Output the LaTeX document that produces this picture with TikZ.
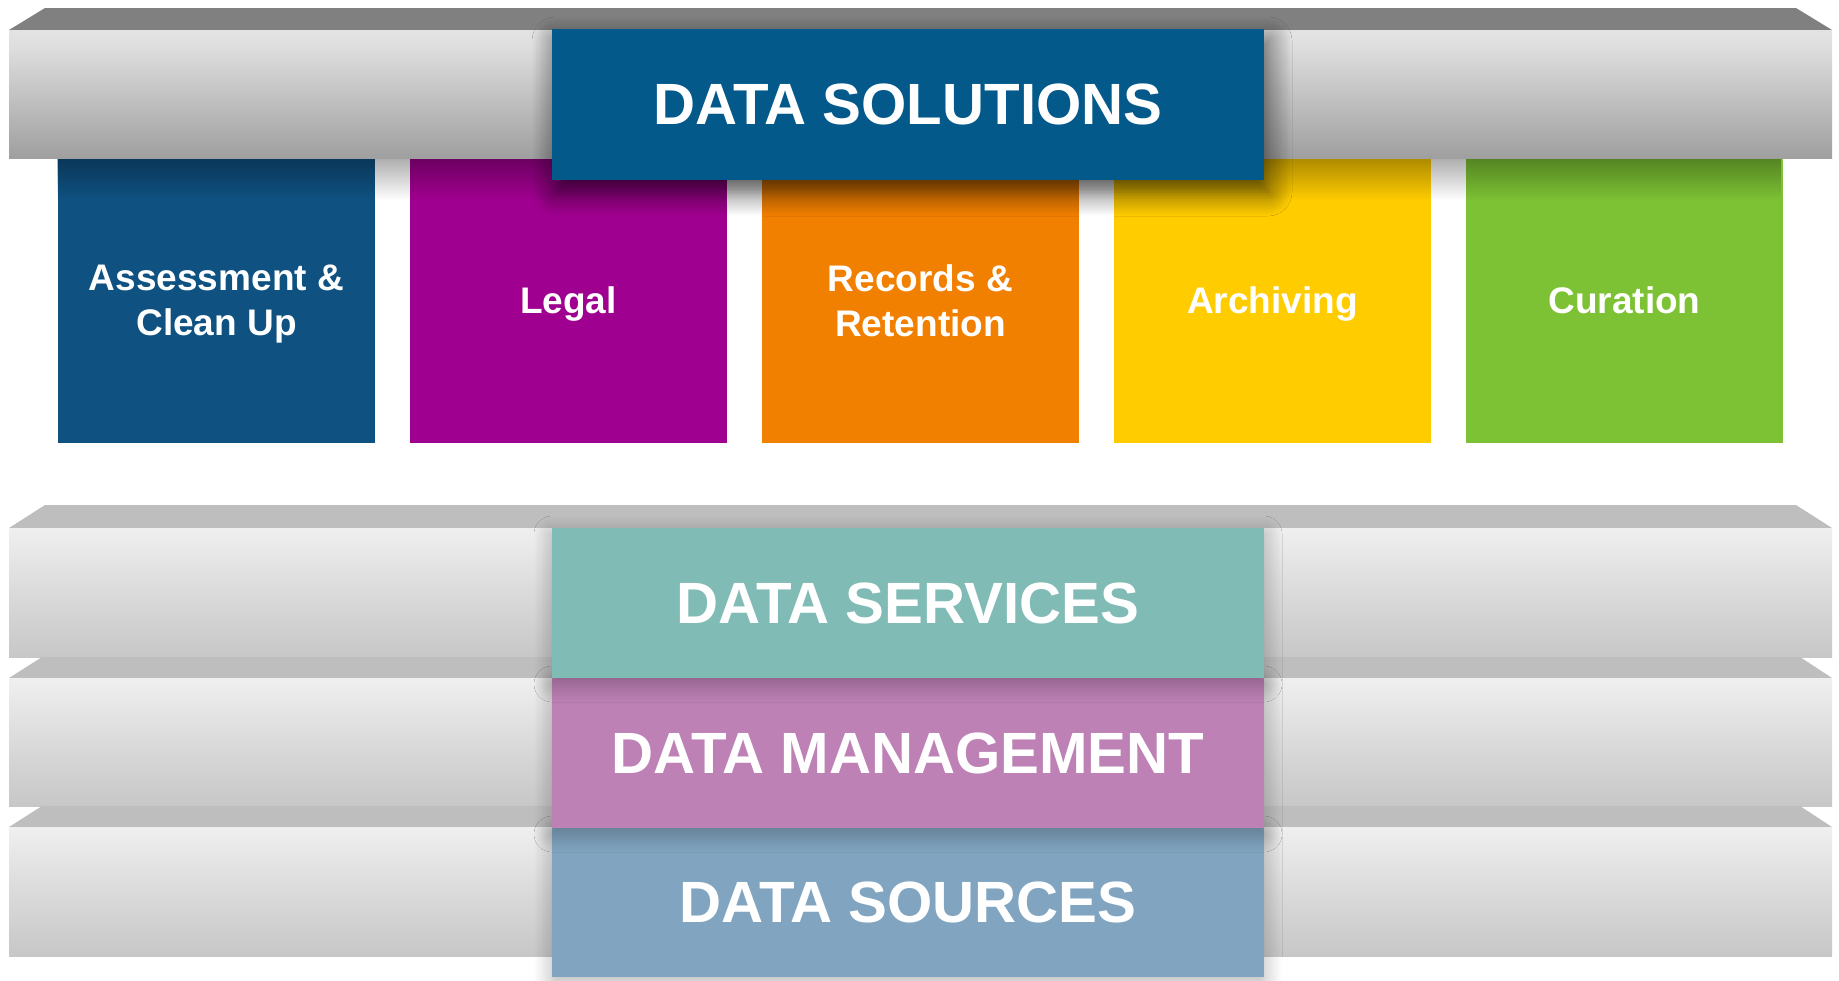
\documentclass[tikz,border=0pt]{standalone}
\usepackage{fontspec}
\setmainfont{Liberation Sans}
\usetikzlibrary{shadows.blur,fadings}
\definecolor{sd0}{HTML}{808080}
\definecolor{sd1}{HTML}{989898}
\definecolor{sd2}{HTML}{BCBCBC}
\definecolor{sd3}{HTML}{E0E0E0}
\definecolor{sd4}{HTML}{F0F0F0}
\definecolor{sl0}{HTML}{BEBEBE}
\definecolor{sl1}{HTML}{C7C7C7}
\definecolor{sl2}{HTML}{DCDCDC}
\definecolor{sl3}{HTML}{F2F2F2}
\definecolor{sl4}{HTML}{F7F7F7}
\definecolor{topdark}{HTML}{808080}
\definecolor{toplight}{HTML}{BEBEBE}
\definecolor{solblue}{HTML}{02598A}
\definecolor{cblue}{HTML}{0F5282}
\definecolor{cmag}{HTML}{A0008F}
\definecolor{corange}{HTML}{F28000}
\definecolor{cyellow}{HTML}{FFCC00}
\definecolor{cgreen}{HTML}{7DC234}
\definecolor{cteal}{HTML}{81BBB5}
\definecolor{cpink}{HTML}{BD81B5}
\definecolor{csteel}{HTML}{81A5C0}
\pgfdeclareverticalshading{slabdark}{100bp}{color(0bp)=(sd0); color(20bp)=(sd1); color(45bp)=(sd2); color(70bp)=(sd3); color(100bp)=(sd4)}
\pgfdeclareverticalshading{slablight}{100bp}{color(0bp)=(sl0); color(25bp)=(sl1); color(52bp)=(sl2); color(78bp)=(sl3); color(100bp)=(sl4)}
\tikzfading[name=fadedown, top color=transparent!0, bottom color=transparent!100]
\begin{document}
\begin{tikzpicture}[x=0.5pt,y=-0.5pt,
  colbox/.style={minimum width=158.5pt, minimum height=142.5pt, inner sep=0pt, outer sep=0pt,
    text=white, align=center, font=\bfseries\fontsize{18.5pt}{22.5pt}\selectfont},
  bigbox/.style={minimum width=356pt, minimum height=75pt, inner sep=0pt, outer sep=0pt,
    text=white, font=\bfseries\fontsize{29.1pt}{34pt}\selectfont},
  softshadow/.style={blur shadow={shadow xshift=0pt, shadow yshift=-3pt, shadow blur radius=9pt, shadow opacity=30, shadow blur steps=12}},
  darkshadow/.style={blur shadow={shadow xshift=2pt, shadow yshift=-6pt, shadow blur radius=12pt, shadow opacity=65, shadow blur steps=12}}]
\useasboundingbox (0,0) rectangle (1839,980);
% colored solution boxes
\node[colbox, fill=cblue]   (assess)  at (216.5,300.5) {Assessment \&\\Clean U\smash{p}};
\node[colbox, fill=cmag]    (legal)   at (568.5,300.5) {Le\smash{g}al};
\node[colbox, fill=corange] (records) at (920.5,300.5) {Records \&\\Retention};
\node[colbox, fill=cyellow] (archive) at (1272.5,300.5) {Archivin\smash{g}};
\node[colbox, fill=cgreen]  (curate)  at (1624.5,300.5) {Curation};
% shadow cast by the top slab
\fill[black, fill opacity=0.32, path fading=fadedown, fit fading=true] (58,158) rectangle (1783,200);
% top slab
\fill[topdark] (9,30) -- (45,8) -- (1796,8) -- (1832,30) -- cycle;
\shade[shading=slabdark] (9,30) rectangle (1832,158);
\node[bigbox, fill=solblue, minimum height=75.5pt, darkshadow] (solutions) at (908,104.5) {DATA SOLUTIONS};
% lower slabs
\fill[toplight] (9,528) -- (45,505) -- (1796,505) -- (1832,528) -- cycle;
\shade[shading=slablight] (9,528) rectangle (1832,657);
\fill[toplight] (9,678) -- (42,657) -- (1800,657) -- (1832,678) -- cycle;
\shade[shading=slablight] (9,678) rectangle (1832,806);
\fill[toplight] (9,827) -- (42,806) -- (1800,806) -- (1832,827) -- cycle;
\shade[shading=slablight] (9,827) rectangle (1832,956);
% layer boxes
\node[bigbox, fill=csteel, minimum height=74.5pt, softshadow] (sources) at (908,902.5) {DATA SOURCES};
\node[bigbox, fill=cpink, softshadow] (management) at (908,753) {DATA MANAGEMENT};
\node[bigbox, fill=cteal, softshadow] (services) at (908,603) {DATA SERVICES};
\end{tikzpicture}
\end{document}
